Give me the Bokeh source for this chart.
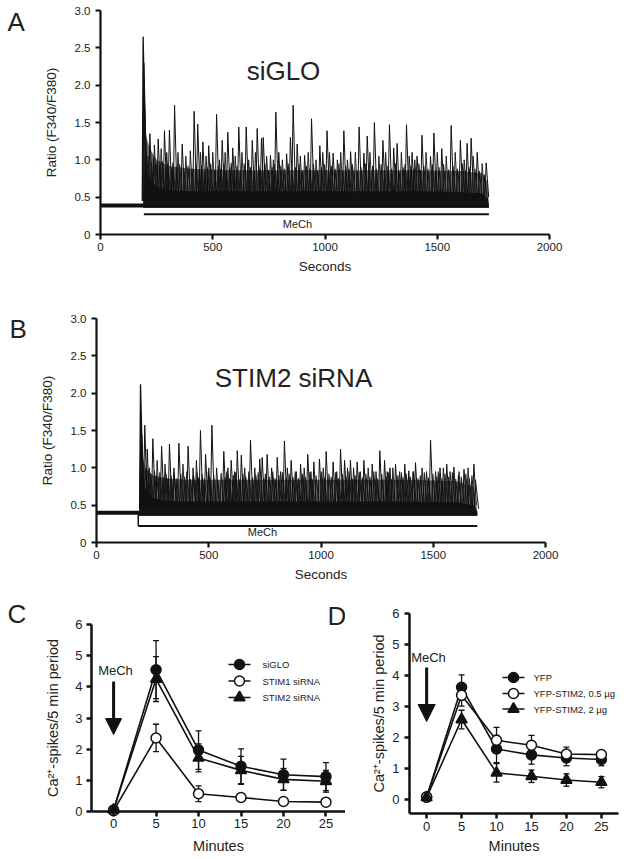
from bokeh.plotting import figure
from bokeh.layouts import column, row
from bokeh.models import (Label, Arrow, NormalHead, FixedTicker, Whisker, TeeHead,
                          ColumnDataSource, Range1d, CustomJSTickFormatter)
from bokeh.embed import file_html
from bokeh.resources import INLINE

FONT = "Liberation Sans"
INK = "#111111"
TXT = "#222222"

# ---------------- Panel A data (siGLO traces) ----------------
a_baseline = 0.39
a_stim_t = 190
a_end_t = 1730
a_bar_y = 0.27
a_bar_start = 193
a_peak_t = [190, 193, 196]
a_peak_h = [2.65, 2.30, 1.70]
a_spike_t = [220, 257, 285, 307, 330, 364, 417, 433, 456, 482, 517, 542, 567, 589, 616,
             649, 676, 698, 717, 725, 757, 781, 794, 829, 846, 858, 876, 909, 940, 977,
             1009, 1036, 1084, 1114, 1152, 1173, 1188, 1220, 1258, 1287, 1306, 1321, 1363,
             1388, 1410, 1432, 1485, 1520, 1562, 1603, 1633, 1651, 1678, 1718]
a_spike_h = [1.35, 1.28, 1.39, 1.40, 1.73, 1.21, 1.65, 1.48, 1.24, 1.19, 1.61, 1.26, 1.37, 1.16, 1.44,
             1.44, 1.26, 1.42, 1.29, 1.30, 1.06, 1.64, 1.10, 1.08, 1.30, 1.73, 1.21, 1.06, 1.55, 1.19,
             1.39, 1.09, 1.39, 1.11, 1.44, 1.09, 1.32, 1.50, 1.26, 1.47, 1.16, 1.22, 1.47,
             1.10, 1.05, 1.33, 1.36, 1.15, 1.46, 1.26, 1.22, 1.29, 1.10, 0.96]
a_mid_t = [240, 270, 295, 345, 380, 400, 445, 470, 500, 530, 555, 600, 630, 660, 690, 740, 770,
           810, 890, 925, 960, 990, 1020, 1055, 1070, 1100, 1135, 1200, 1240, 1270, 1340, 1375,
           1400, 1450, 1470, 1500, 1540, 1580, 1620, 1660, 1700]
a_mid_h = [1.20, 1.15, 1.10, 1.10, 1.05, 1.12, 1.10, 1.05, 1.10, 1.00, 1.10, 1.05, 1.10, 1.00, 1.10,
           1.05, 1.00, 1.00, 1.05, 1.10, 1.00, 1.10, 1.10, 1.00, 1.10, 1.00, 1.10, 1.10, 1.05, 1.10,
           1.10, 1.05, 1.00, 1.10, 1.05, 1.10, 1.05, 1.10, 1.00, 1.05, 0.95]
a_low_t = [203, 212, 226, 236, 248, 262, 275, 290, 300, 316,
           322, 338, 352, 372, 390, 408, 425, 440, 450, 463,
           476, 490, 508, 524, 536, 550, 560, 575, 582, 595,
           608, 622, 640, 655, 668, 683, 705, 712, 732, 748,
           765, 775, 788, 803, 818, 836, 852, 868, 884, 898,
           917, 932, 948, 966, 984, 998, 1015, 1028, 1045, 1062,
           1078, 1092, 1106, 1122, 1143, 1160, 1180, 1196, 1212, 1228,
           1250, 1265, 1280, 1296, 1314, 1330, 1348, 1356, 1370, 1382,
           1395, 1418, 1425, 1440, 1458, 1478, 1492, 1508, 1528, 1550,
           1570, 1590, 1612, 1626, 1642, 1668, 1688, 1710]
a_low_h = [1.10, 1.05, 0.98, 1.02, 0.95, 0.92, 0.98, 0.90, 0.95, 0.88,
           0.96, 0.90, 0.94, 0.85, 0.92, 0.88, 0.95, 0.86, 0.92, 0.84,
           0.90, 0.95, 0.86, 0.92, 0.88, 0.94, 0.85, 0.90, 0.96, 0.87,
           0.92, 0.86, 0.95, 0.88, 0.90, 0.84, 0.93, 0.88, 0.95, 0.86,
           0.90, 0.94, 0.85, 0.92, 0.88, 0.95, 0.87, 0.90, 0.94, 0.86,
           0.92, 0.88, 0.95, 0.86, 0.90, 0.94, 0.87, 0.92, 0.88, 0.95,
           0.86, 0.92, 0.88, 0.94, 0.85, 0.90, 0.95, 0.87, 0.92, 0.88,
           0.94, 0.86, 0.92, 0.88, 0.95, 0.85, 0.90, 0.94, 0.87, 0.92,
           0.88, 0.95, 0.86, 0.92, 0.88, 0.94, 0.85, 0.90, 0.94, 0.87,
           0.92, 0.88, 0.95, 0.86, 0.90, 0.88, 0.85, 0.80]
a_env_t = [190, 197, 205, 220, 250, 300, 400, 600, 800, 1000, 1200, 1400, 1600, 1700, 1725, 1730]
a_env_hi = [0.40, 1.45, 1.30, 1.15, 1.00, 0.92, 0.88, 0.86, 0.86, 0.86, 0.86, 0.86, 0.85, 0.82, 0.70, 0.40]
a_env_lo = [0.40, 1.05, 0.90, 0.75, 0.64, 0.60, 0.58, 0.58, 0.58, 0.58, 0.58, 0.58, 0.57, 0.55, 0.48, 0.40]

# ---------------- Panel B data (STIM2 siRNA traces) ----------------
b_baseline = 0.40
b_stim_t = 190
b_end_t = 1696
b_bar_y = 0.22
b_bar_start = 186
b_peak_t = [196, 198, 201]
b_peak_h = [2.12, 1.60, 1.45]
b_spike_t = [215, 226, 251, 290, 325, 367, 408, 463, 486, 514, 567, 600, 627, 645, 686,
             727, 738, 760, 805, 837, 867, 909, 941, 968, 993, 1023, 1054, 1087, 1105, 1131,
             1161, 1191, 1228, 1262, 1283, 1307, 1332, 1373, 1391, 1421, 1488, 1530, 1560, 1592,
             1637, 1681]
b_spike_h = [1.57, 1.25, 1.39, 1.29, 1.32, 1.33, 1.29, 1.50, 1.18, 1.57, 1.22, 1.10, 1.23, 1.17, 1.37,
             1.12, 1.14, 1.18, 1.14, 1.36, 1.10, 1.05, 1.18, 1.08, 1.12, 1.22, 1.08, 1.25, 1.10, 1.10,
             1.08, 1.10, 1.05, 1.23, 1.10, 1.00, 1.05, 1.05, 0.96, 1.07, 1.37, 1.00, 1.05, 1.01,
             0.98, 1.05]
b_mid_t = [235, 270, 305, 345, 385, 430, 445, 500, 535, 585, 615, 660, 705, 780, 820, 850, 890,
           925, 955, 1010, 1070, 1118, 1145, 1175, 1210, 1245, 1295, 1320, 1350, 1410, 1450, 1470,
           1510, 1545, 1575, 1615, 1655]
b_mid_h = [1.00, 1.10, 1.05, 1.00, 1.05, 1.00, 1.10, 1.00, 1.00, 1.00, 0.95, 1.00, 1.00, 1.00, 0.95,
           1.00, 0.95, 1.00, 0.95, 1.00, 0.95, 1.00, 1.00, 0.95, 1.00, 0.95, 0.95, 1.00, 0.95, 0.95,
           1.00, 0.95, 0.95, 1.00, 0.95, 0.95, 1.00]
b_low_t = [206, 218, 230, 242, 258, 268, 282, 296, 310, 318,
           332, 345, 358, 375, 392, 402, 418, 432, 448, 455,
           470, 480, 498, 505, 522, 540, 555, 572, 580, 592,
           610, 620, 635, 652, 665, 678, 695, 710, 720, 745,
           752, 770, 785, 795, 812, 828, 845, 858, 875, 885,
           900, 918, 930, 950, 960, 978, 1002, 1015, 1035, 1045,
           1065, 1078, 1095, 1112, 1125, 1140, 1152, 1170, 1185, 1200,
           1218, 1235, 1250, 1270, 1290, 1300, 1315, 1342, 1358, 1365,
           1380, 1398, 1412, 1432, 1442, 1460, 1478, 1498, 1515, 1522,
           1538, 1552, 1568, 1585, 1600, 1612, 1625, 1645, 1660, 1672, 1688]
b_low_h = [1.02, 0.98, 0.95, 0.92, 0.96, 0.90, 0.94, 0.88, 0.92, 0.86,
           0.90, 0.94, 0.86, 0.92, 0.88, 0.95, 0.85, 0.90, 0.94, 0.87,
           0.92, 0.86, 0.95, 0.88, 0.90, 0.84, 0.93, 0.88, 0.95, 0.86,
           0.90, 0.94, 0.85, 0.92, 0.88, 0.95, 0.87, 0.90, 0.94, 0.86,
           0.92, 0.88, 0.95, 0.86, 0.90, 0.94, 0.87, 0.92, 0.88, 0.95,
           0.86, 0.92, 0.88, 0.94, 0.85, 0.90, 0.95, 0.87, 0.92, 0.88,
           0.94, 0.86, 0.92, 0.88, 0.95, 0.85, 0.90, 0.94, 0.87, 0.92,
           0.88, 0.95, 0.86, 0.92, 0.88, 0.94, 0.85, 0.90, 0.94, 0.87,
           0.92, 0.88, 0.95, 0.86, 0.90, 0.94, 0.87, 0.92, 0.88, 0.95,
           0.86, 0.92, 0.88, 0.94, 0.85, 0.90, 0.88, 0.92, 0.86, 0.90, 0.84]
b_env_t = [190, 196, 205, 220, 250, 300, 400, 600, 800, 1000, 1200, 1400, 1600, 1680, 1696]
b_env_hi = [0.42, 1.30, 1.15, 1.00, 0.90, 0.86, 0.84, 0.84, 0.84, 0.84, 0.84, 0.84, 0.82, 0.75, 0.42]
b_env_lo = [0.42, 1.00, 0.85, 0.70, 0.60, 0.56, 0.55, 0.55, 0.55, 0.55, 0.55, 0.55, 0.54, 0.50, 0.42]

# ---------------- Panel C data ----------------
minutes = [0, 5, 10, 15, 20, 25]
c_names = ["siGLO", "STIM1 siRNA", "STIM2 siRNA"]
c_siglo = [0.05, 4.55, 1.97, 1.45, 1.18, 1.12]
c_siglo_err = [0, 0.93, 0.62, 0.56, 0.50, 0.45]
c_stim1 = [0.03, 2.36, 0.57, 0.45, 0.32, 0.30]
c_stim1_err = [0, 0.44, 0.25, 0.05, 0.05, 0.04]
c_stim2 = [0.05, 4.25, 1.72, 1.32, 1.03, 0.97]
c_stim2_err = [0, 0.72, 0.45, 0.45, 0.35, 0.35]

# ---------------- Panel D data ----------------
d_names = ["YFP", "YFP-STIM2, 0.5 µg", "YFP-STIM2, 2 µg"]
d_yfp = [0.08, 3.62, 1.63, 1.44, 1.34, 1.29]
d_yfp_err = [0, 0.40, 0.44, 0.30, 0.25, 0.20]
d_s05 = [0.08, 3.36, 1.91, 1.75, 1.47, 1.45]
d_s05_err = [0, 0.35, 0.42, 0.32, 0.22, 0.13]
d_s2 = [0.07, 2.58, 0.86, 0.75, 0.63, 0.56]
d_s2_err = [0, 0.30, 0.30, 0.20, 0.20, 0.18]


def mapper(frame, xr, yr):
    l, r, t, b = frame
    fx = lambda px: xr[0] + (px - l) / (r - l) * (xr[1] - xr[0])
    fy = lambda py: yr[0] + (b - py) / (b - t) * (yr[1] - yr[0])
    return fx, fy


def make_fig(canvas, frame, xr, yr, xlabel, ylabel, tick_font, label_font, lw,
             x_std, y_std):
    """Figure whose drawing area is the whole canvas; axes are pinned to the axes box.
    x_std / y_std = (tick label standoff, axis label standoff)."""
    cx0, cy0, cx1, cy1 = canvas
    fx, fy = mapper(frame, xr, yr)
    p = figure(width=cx1 - cx0, height=cy1 - cy0,
               x_range=Range1d(fx(cx0), fx(cx1)), y_range=Range1d(fy(cy1), fy(cy0)),
               output_backend="svg", toolbar_location=None,
               min_border_left=0, min_border_right=0, min_border_top=0, min_border_bottom=0,
               x_axis_label=xlabel, y_axis_label=ylabel)
    p.xaxis.fixed_location = yr[0]
    p.yaxis.fixed_location = xr[0]
    p.xaxis.bounds = xr
    p.yaxis.bounds = yr
    for ax, std in ((p.xaxis[0], x_std), (p.yaxis[0], y_std)):
        ax.axis_line_width = lw
        ax.axis_line_color = INK
        ax.major_tick_line_width = lw
        ax.major_tick_line_color = INK
        ax.major_tick_in = 0
        ax.major_tick_out = 5
        ax.minor_tick_line_color = None
        ax.major_label_text_font = FONT
        ax.major_label_text_font_size = tick_font
        ax.major_label_text_color = TXT
        ax.major_label_standoff = std[0]
        ax.axis_label_text_font = FONT
        ax.axis_label_text_font_size = label_font
        ax.axis_label_text_font_style = "normal"
        ax.axis_label_text_color = TXT
        ax.axis_label_standoff = std[1]
    p.xgrid.visible = False
    p.ygrid.visible = False
    p.outline_line_color = None
    p.background_fill_color = "white"
    return p, fx, fy


def label(p, x, y, text, size, align="left"):
    p.add_layout(Label(x=x, y=y, text=text, text_font=FONT, text_font_size=size,
                       text_color=TXT, text_align=align, text_baseline="middle"))


def spikes(p, ts, hs, base, lw, alpha, rise=6, fall=11):
    xs = [[t - rise, t, t + fall] for t in ts]
    ys = [[base, h, base] for h in hs]
    p.multi_line(xs, ys, line_color=INK, line_width=lw, line_alpha=alpha)


def trace_panel(p, baseline, stim_t, end_t, env_t, env_lo, env_hi, peak_t, peak_h,
                spike_t, spike_h, mid_t, mid_h, low_t, low_h, bar_y, bar_start):
    p.line([0, stim_t], [baseline, baseline], line_color=INK, line_width=4)
    p.varea(x=env_t, y1=[0.36] * len(env_t), y2=env_hi, fill_color="#2e2e2e", fill_alpha=0.7)
    p.varea(x=env_t, y1=[0.36] * len(env_t), y2=env_lo, fill_color="#151515")
    spikes(p, low_t, low_h, 0.45, 1.1, 0.9, rise=6, fall=14)
    spikes(p, mid_t, mid_h, 0.5, 1.0, 0.9)
    spikes(p, spike_t, spike_h, 0.5, 1.0, 1.0)
    spikes(p, peak_t, peak_h, 0.45, 1.3, 1.0, rise=4, fall=14)
    p.line([stim_t, end_t], [0.38, 0.38], line_color=INK, line_width=3)
    p.line([bar_start, end_t], [bar_y, bar_y], line_color=INK, line_width=2)


ratio_fmt = CustomJSTickFormatter(code="return tick == 0 ? '0' : tick.toFixed(1);")
ratio_ticks = [0, 0.5, 1, 1.5, 2, 2.5, 3]
second_ticks = [0, 500, 1000, 1500, 2000]

# ================= Panel A =================
pA, afx, afy = make_fig((0, 0, 620, 285), (100, 549, 10, 234), (0, 2000), (0, 3),
                        "Seconds", "Ratio (F340/F380)", "11.5px", "13.5px", 2.2, (3, 5), (5, 13))
pA.xaxis.ticker = FixedTicker(ticks=second_ticks)
pA.yaxis.ticker = FixedTicker(ticks=ratio_ticks)
pA.yaxis.formatter = ratio_fmt
trace_panel(pA, a_baseline, a_stim_t, a_end_t, a_env_t, a_env_lo, a_env_hi, a_peak_t, a_peak_h,
            a_spike_t, a_spike_h, a_mid_t, a_mid_h, a_low_t, a_low_h, a_bar_y, a_bar_start)
label(pA, afx(7), afy(21), "A", "26px")
label(pA, afx(283), afy(70), "siGLO", "26px", "center")
label(pA, afx(297), afy(223), "MeCh", "11px", "center")

# ================= Panel B =================
pB, bfx, bfy = make_fig((0, 285, 620, 585), (96, 545, 318, 542), (0, 2000), (0, 3),
                        "Seconds", "Ratio (F340/F380)", "11.5px", "13.5px", 2.2, (3, 5), (5, 13))
pB.xaxis.ticker = FixedTicker(ticks=second_ticks)
pB.yaxis.ticker = FixedTicker(ticks=ratio_ticks)
pB.yaxis.formatter = ratio_fmt
trace_panel(pB, b_baseline, b_stim_t, b_end_t, b_env_t, b_env_lo, b_env_hi, b_peak_t, b_peak_h,
            b_spike_t, b_spike_h, b_mid_t, b_mid_h, b_low_t, b_low_h, b_bar_y, b_bar_start)
pB.line([b_bar_start, b_bar_start], [b_baseline, b_bar_y], line_color=INK, line_width=1.5)
label(pB, bfx(9), bfy(328), "B", "26px")
label(pB, bfx(293), bfy(377), "STIM2 siRNA", "26px", "center")
label(pB, bfx(262), bfy(531), "MeCh", "11px", "center")


def summary_series(p, x, y, err):
    p.line(x, y, line_color=INK, line_width=1.6)
    xs = [xi for xi, e in zip(x, err) if e > 0]
    ys = [yi for yi, e in zip(y, err) if e > 0]
    es = [e for e in err if e > 0]
    src = ColumnDataSource(dict(x=xs, upper=[a + b for a, b in zip(ys, es)],
                                lower=[a - b for a, b in zip(ys, es)]))
    w = Whisker(source=src, base="x", upper="upper", lower="lower", line_color=INK,
                line_width=1.3, level="underlay",
                upper_head=TeeHead(size=6, line_color=INK, line_width=1.3),
                lower_head=TeeHead(size=6, line_color=INK, line_width=1.3))
    p.add_layout(w)


def markers(p, x, y, marker, fill, size):
    p.scatter(x, y, marker=marker, size=size, fill_color=fill, line_color=INK, line_width=1.5)


def legend_row(p, fx, fy, x0, x1, xt, py, marker, fill, size, text):
    y = fy(py)
    p.line([fx(x0), fx(x1)], [y, y], line_color=INK, line_width=1.6)
    p.scatter([fx((x0 + x1) / 2)], [y], marker=marker, size=size, fill_color=fill,
              line_color=INK, line_width=1.5)
    p.text([fx(xt)], [y], text=[text], text_font={"value": FONT}, text_font_size="9.5px",
           text_color=TXT, text_baseline="middle", text_align="left")


styles = [("circle", INK, 10), ("circle", "white", 10), ("triangle", INK, 11)]
count_ticks = [0, 1, 2, 3, 4, 5, 6]

# ================= Panel C =================
pC, cfx, cfy = make_fig((0, 585, 345, 857), (91, 345, 624, 811), (-2.6, 27.3), (0, 6),
                        "Minutes", "Ca²⁺-spikes/5 min period", "13px", "14.5px", 2.5, (2, 7), (4, 11))
pC.xaxis.ticker = FixedTicker(ticks=minutes)
pC.yaxis.ticker = FixedTicker(ticks=count_ticks)
c_series = [(c_siglo, c_siglo_err), (c_stim1, c_stim1_err), (c_stim2, c_stim2_err)]
for ys, es in c_series:
    summary_series(pC, minutes, ys, es)
for (ys, es), (m, f, s) in zip(c_series, styles):
    markers(pC, minutes, ys, m, f, s)
for name, (m, f, s), py in zip(c_names, styles, [664, 680.5, 697]):
    legend_row(pC, cfx, cfy, 228, 250, 262, py, m, f, s, name)
label(pC, cfx(115), cfy(670), "MeCh", "13px", "center")
pC.add_layout(Arrow(end=NormalHead(size=16, fill_color=INK, line_color=INK),
                    x_start=0, y_start=cfy(681), x_end=0, y_end=cfy(734),
                    line_color=INK, line_width=3))
label(pC, cfx(7), cfy(613), "C", "26px")
label(pC, cfx(327), cfy(615), "D", "26px")

# ================= Panel D =================
pD, dfx, dfy = make_fig((345, 585, 620, 857), (409, 618, 613, 813), (-2.45, 27.45), (-0.45, 6),
                        "Minutes", "Ca²⁺-spikes/5 min period", "13px", "14.5px", 2.5, (3, 4), (5, 2))
pD.xaxis.ticker = FixedTicker(ticks=minutes)
pD.yaxis.ticker = FixedTicker(ticks=count_ticks)
d_series = [(d_yfp, d_yfp_err), (d_s05, d_s05_err), (d_s2, d_s2_err)]
for ys, es in d_series:
    summary_series(pD, minutes, ys, es)
for (ys, es), (m, f, s) in zip(d_series, styles):
    markers(pD, minutes, ys, m, f, s)
for name, (m, f, s), py in zip(d_names, styles, [677, 693, 708.5]):
    legend_row(pD, dfx, dfy, 502, 524, 533, py, m, f, s, name)
label(pD, dfx(428), dfy(657), "MeCh", "13px", "center")
pD.add_layout(Arrow(end=NormalHead(size=17, fill_color=INK, line_color=INK),
                    x_start=0, y_start=dfy(667), x_end=0, y_end=dfy(721),
                    line_color=INK, line_width=3))

layout = column(pA, pB, row(pC, pD))
open("out.html", "w").write(file_html(layout, INLINE))
